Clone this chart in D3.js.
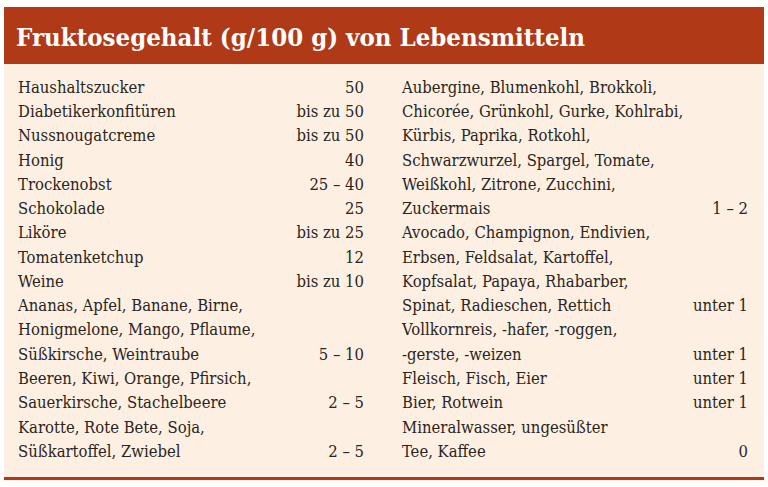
<!DOCTYPE html>
<html><head><meta charset="utf-8">
<script src="https://cdn.jsdelivr.net/npm/d3@7"></script>
<style>body{margin:0;background:#fff}</style>
</head><body>
<div id="chart"></div>
<script>
// DATA
const title = 'Fruktosegehalt (g/100 g) von Lebensmitteln';
// each entry: lines of the label, value shown on the last line
const leftFoods = [
  [['Haushaltszucker'], '50'],
  [['Diabetikerkonfitüren'], 'bis zu 50'],
  [['Nussnougatcreme'], 'bis zu 50'],
  [['Honig'], '40'],
  [['Trockenobst'], '25 – 40'],
  [['Schokolade'], '25'],
  [['Liköre'], 'bis zu 25'],
  [['Tomatenketchup'], '12'],
  [['Weine'], 'bis zu 10'],
  [['Ananas, Apfel, Banane, Birne,', 'Honigmelone, Mango, Pflaume,', 'Süßkirsche, Weintraube'], '5 – 10'],
  [['Beeren, Kiwi, Orange, Pfirsich,', 'Sauerkirsche, Stachelbeere'], '2 – 5'],
  [['Karotte, Rote Bete, Soja,', 'Süßkartoffel, Zwiebel'], '2 – 5']
];
const rightFoods = [
  [['Aubergine, Blumenkohl, Brokkoli,', 'Chicorée, Grünkohl, Gurke, Kohlrabi,', 'Kürbis, Paprika, Rotkohl,', 'Schwarzwurzel, Spargel, Tomate,', 'Weißkohl, Zitrone, Zucchini,', 'Zuckermais'], '1 – 2'],
  [['Avocado, Champignon, Endivien,', 'Erbsen, Feldsalat, Kartoffel,', 'Kopfsalat, Papaya, Rhabarber,', 'Spinat, Radieschen, Rettich'], 'unter 1'],
  [['Vollkornreis, -hafer, -roggen,', '-gerste, -weizen'], 'unter 1'],
  [['Fleisch, Fisch, Eier'], 'unter 1'],
  [['Bier, Rotwein'], 'unter 1'],
  [['Mineralwasser, ungesüßter', 'Tee, Kaffee'], '0']
];

const W = 768, H = 487;
const svg = d3.select('#chart').append('svg').attr('width', W).attr('height', H);

svg.append('rect').attr('x', 4).attr('y', 7).attr('width', 760).attr('height', 474).attr('fill', '#fdf0e2');
svg.append('rect').attr('x', 4).attr('y', 7).attr('width', 760).attr('height', 57).attr('fill', '#b03a17');
svg.append('rect').attr('x', 4).attr('y', 477).attr('width', 760).attr('height', 3).attr('fill', '#b03a17');

svg.append('text').attr('x', 16).attr('y', 46)
  .attr('font-family', 'DejaVu Serif').attr('font-weight', 'bold').attr('font-size', 25)
  .attr('textLength', 569).attr('lengthAdjust', 'spacingAndGlyphs')
  .attr('fill', '#fff').text(title);

// flatten to rows
function toRows(list) {
  const rows = [];
  list.forEach(([lines, val]) => lines.forEach((l, i) => rows.push({label: l, value: i === lines.length - 1 ? val : ''})));
  return rows;
}
const y = d3.scaleLinear().domain([0, 15]).range([87, 451]);

function drawColumn(rows, xl, xr) {
  const g = svg.append('g').attr('font-family', 'DejaVu Serif Condensed, DejaVu Serif')
    .attr('font-size', 16.5).attr('fill', '#2a2522');
  g.selectAll('.lab').data(rows).enter().append('text')
    .attr('x', xl).attr('y', (d, i) => y(i)).attr('dy', '0.35em').text(d => d.label);
  g.selectAll('.val').data(rows).enter().append('text')
    .attr('x', xr).attr('y', (d, i) => y(i)).attr('dy', '0.35em')
    .attr('text-anchor', 'end').text(d => d.value);
}
drawColumn(toRows(leftFoods), 18, 364);
drawColumn(toRows(rightFoods), 402, 748);
</script>
</body></html>
